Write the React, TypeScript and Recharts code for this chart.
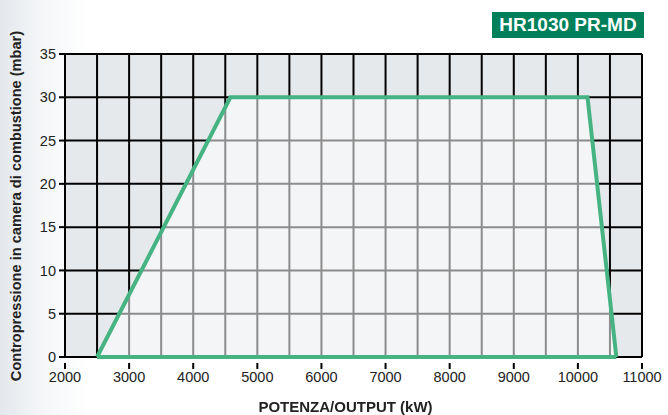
import React from 'react';
import { ComposedChart, Area, Line, XAxis, YAxis, CartesianGrid } from 'recharts';

const powerKW = [2500, 4580, 10150, 10600];
const backPressure = [0, 30, 30, 0];
const baseLine = [0, null, null, 0];

const xTicks = [2000, 2500, 3000, 3500, 4000, 4500, 5000, 5500, 6000, 6500, 7000, 7500, 8000, 8500, 9000, 9500, 10000, 10500, 11000];
const yTicks = [0, 5, 10, 15, 20, 25, 30, 35];

const data = powerKW.map((kw, i) => ({ kw, mbar: backPressure[i], base: baseLine[i] }));

const GREEN = '#46b482';
const FONT = '"Liberation Sans", Arial, Helvetica, sans-serif';

const XTick = (props: any) => {
  const { x, y, payload } = props;
  if (payload.value % 1000 !== 0) return null;
  return (
    <g>
      <line x1={x} y1={y - 2} x2={x} y2={y + 4} stroke="#000" strokeWidth={2} />
      <text x={x} y={y + 17} textAnchor="middle" fontSize={14.5} fill="#222" fontFamily={FONT}>
        {payload.value}
      </text>
    </g>
  );
};

const App: React.FC = () => {
  return (
    <div
      style={{
        position: 'fixed',
        left: 0,
        top: 0,
        width: 668,
        height: 415,
        background: 'linear-gradient(to right, #e4e8ec 0px, #f4f6f8 40px, #ffffff 90px)',
        fontFamily: FONT,
      }}
    >
      <div
        style={{
          position: 'absolute',
          left: 492,
          top: 12,
          width: 152,
          height: 26,
          background: '#00805a',
          color: '#fff',
          fontWeight: 'bold',
          fontSize: 19,
          lineHeight: '26px',
          textAlign: 'center',
        }}
      >
        HR1030 PR-MD
      </div>
      <ComposedChart
        width={668}
        height={415}
        data={data}
        margin={{ top: 54, right: 26, bottom: 28, left: 15 }}
      >
        <CartesianGrid stroke="#000" strokeWidth={2} fill="#e6e9ec" fillOpacity={1} />
        <XAxis
          dataKey="kw"
          type="number"
          domain={[2000, 11000]}
          ticks={xTicks}
          interval={0}
          height={30}
          tickLine={false}
          axisLine={false}
          tick={<XTick />}
        />
        <YAxis
          type="number"
          domain={[0, 35]}
          ticks={yTicks}
          interval={0}
          width={50}
          tickSize={6}
          tickLine={{ stroke: '#000', strokeWidth: 2 }}
          axisLine={{ stroke: '#000', strokeWidth: 2 }}
          tick={{ fill: '#222', fontSize: 14.5, fontFamily: FONT }}
          tickMargin={3}
        />
        <Area
          type="linear"
          dataKey="mbar"
          stroke={GREEN}
          strokeWidth={4}
          fill="#ffffff"
          fillOpacity={0.55}
          isAnimationActive={false}
          dot={false}
          activeDot={false}
        />
        <Line
          type="linear"
          dataKey="base"
          stroke={GREEN}
          strokeWidth={4}
          connectNulls
          dot={false}
          activeDot={false}
          isAnimationActive={false}
        />
      </ComposedChart>
      <div
        style={{
          position: 'absolute',
          left: 0,
          top: 398,
          width: 691,
          textAlign: 'center',
          fontWeight: 'bold',
          fontSize: 15,
          lineHeight: '18px',
          color: '#222',
        }}
      >
        POTENZA/OUTPUT (kW)
      </div>
      <div
        style={{
          position: 'absolute',
          left: 16,
          top: 206,
          transform: 'translate(-50%, -50%) rotate(-90deg)',
          whiteSpace: 'nowrap',
          fontWeight: 'bold',
          fontSize: 14.6,
          color: '#222',
        }}
      >
        Contropressione in camera di combustione (mbar)
      </div>
    </div>
  );
};

export default App;
